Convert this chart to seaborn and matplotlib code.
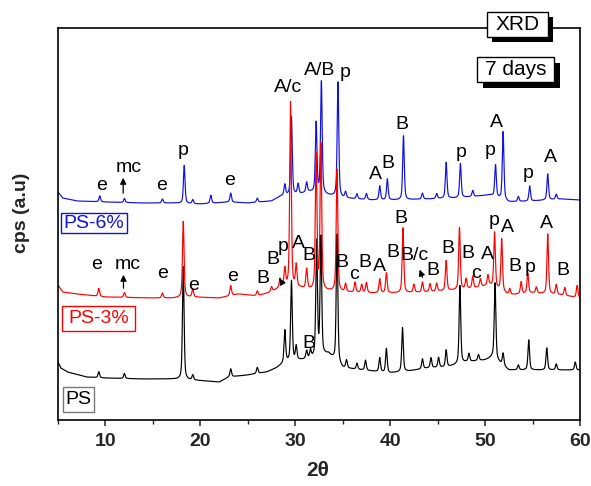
import numpy as np
import pandas as pd
import matplotlib
matplotlib.use("Agg")
import matplotlib.pyplot as plt
import seaborn as sns
from matplotlib.patches import Rectangle

# ---------------- data ----------------
x_min, x_max = 5, 60
x_major_ticks = [10, 20, 30, 40, 50, 60]
x_label = "2\u03b8"
y_label = "cps (a.u)"

# baselines (2theta, level) per sample
ps_base_x = [5.0, 5.3, 6, 8, 10, 14, 17, 19, 22, 23, 25, 27, 28, 29, 30.5, 31.5, 33.5, 35, 37, 40, 42, 44, 46, 48, 50, 50.8, 52.5, 55, 58, 60]
ps_base_y = [58, 52, 48, 43, 42, 41, 41, 40, 38, 43, 45, 48, 52, 58, 60, 61, 66, 52, 50, 47, 49, 52, 53, 58, 60, 63, 50, 50, 50, 50]
ps_peak_pos = [9.3, 12.0, 18.2, 19.2, 23.2, 26.0, 28.9, 29.6, 30.1, 31.2, 31.6, 32.25, 32.7, 34.4, 35.4, 36.5, 37.4, 38.9, 39.6, 41.3, 43.4, 44.3, 45.1, 45.9, 47.35, 48.3, 49.3, 51.05, 51.9, 53.5, 54.6, 56.5, 57.5, 59.5]
ps_peak_amp = [6, 5, 113, 5, 8, 6, 32, 80, 14, 8, 8, 115, 118, 128, 8, 6, 10, 14, 24, 44, 10, 10, 10, 17, 78, 8, 6, 76, 12, 5, 30, 22, 6, 8]

s3_base_x = [5.0, 5.5, 7, 10, 15, 17, 19, 22, 24, 26, 27.5, 28.5, 30.5, 31.5, 35, 38, 41, 44, 47, 49, 50.5, 52.5, 55, 58, 60]
s3_base_y = [135, 128, 126, 123, 122, 122, 123, 122, 126, 124, 128, 133, 132, 130, 128, 127, 127, 128, 130, 132, 135, 125, 127, 125, 122]
s3_peak_pos = [9.3, 12.0, 16.0, 18.2, 19.2, 23.2, 26.0, 27.5, 28.4, 28.9, 29.5, 30.1, 31.2, 32.2, 32.7, 34.4, 35.3, 36.3, 37.0, 37.5, 38.9, 39.6, 41.35, 42.5, 43.4, 44.2, 44.9, 45.9, 47.3, 48.0, 48.7, 49.5, 50.3, 51.0, 51.75, 52.6, 53.8, 54.5, 55.4, 56.6, 57.5, 58.4, 59.7]
s3_peak_amp = [8, 5, 5, 76, 8, 10, 5, 5, 8, 18, 185, 22, 20, 135, 145, 122, 8, 10, 8, 10, 14, 20, 65, 8, 10, 8, 8, 30, 62, 10, 12, 8, 10, 55, 52, 6, 12, 20, 6, 60, 10, 8, 12]

s6_base_x = [5.0, 5.5, 7, 10, 14, 17, 20, 23, 25, 27.5, 28.5, 30.5, 31.5, 35, 38, 41, 44, 47, 50.5, 52.5, 55, 58, 60]
s6_base_y = [228, 222, 219, 218, 217, 217, 216, 218, 217, 219, 224, 226, 228, 222, 220, 220, 221, 222, 225, 218, 219, 221, 220]
s6_peak_pos = [9.4, 12.0, 16.0, 18.3, 19.2, 21.1, 23.2, 26.0, 28.9, 29.6, 30.3, 31.2, 32.2, 32.75, 34.5, 35.3, 36.5, 37.5, 38.9, 39.7, 41.4, 43.4, 44.9, 45.9, 47.4, 48.7, 51.1, 51.9, 53.5, 54.7, 56.6, 57.5]
s6_peak_amp = [6, 4, 4, 38, 4, 8, 9, 4, 11, 78, 10, 10, 70, 112, 115, 6, 5, 6, 14, 21, 64, 6, 5, 36, 34, 6, 32, 68, 5, 15, 26, 5]

sample_order = ["PS", "PS-6%", "PS-3%"]
sample_colors = {"PS": "#000000", "PS-6%": "#1010e0", "PS-3%": "#ff0000"}

# peak labels (text, 2theta, level)
labels_6 = [("e", 9.6, 235), ("mc", 12.4, 253), ("e", 15.9, 235), ("p", 18.2, 270),
            ("e", 23.1, 240), ("A/c", 29.2, 333), ("A/B", 32.6, 350), ("p", 35.3, 348),
            ("A", 38.5, 246), ("B", 39.8, 257), ("B", 41.2, 296), ("p", 47.5, 268),
            ("p", 50.5, 270), ("A", 51.2, 298), ("p", 54.5, 247), ("A", 56.9, 263)]
labels_3 = [("e", 9.1, 156), ("mc", 12.3, 156), ("e", 16.05, 147), ("e", 19.3, 135),
            ("e", 23.4, 144), ("B", 26.6, 142), ("B", 27.6, 161), ("p", 28.7, 174),
            ("A", 30.3, 177), ("B", 31.4, 165), ("B", 34.9, 158), ("c", 36.2, 146),
            ("B", 37.35, 158), ("A", 38.9, 154), ("B", 40.3, 168), ("B", 41.1, 202),
            ("B/c", 42.6, 165), ("B", 44.5, 150), ("B", 46.05, 172), ("B", 48.2, 167),
            ("c", 49.0, 147), ("A", 50.2, 166), ("p", 51.0, 200), ("A", 52.4, 193),
            ("B", 53.1, 154), ("p", 54.7, 153), ("A", 56.5, 197), ("B", 58.2, 150)]
labels_ps = [("B", 31.4, 77)]

# ---------------- build profiles ----------------
def profile(grid, bx, by, pos, amp, hwhm=0.1):
    y = np.interp(grid, bx, by).astype(float)
    for p, a in zip(pos, amp):
        u = (grid - p) / hwhm
        y += a * (0.5 / (1 + u ** 2) + 0.5 * np.exp(-np.log(2) * u ** 2))
    return y

grid = np.linspace(x_min, x_max, 5501)
frames = []
for name, bx, by, pos, amp in [
    ("PS", ps_base_x, ps_base_y, ps_peak_pos, ps_peak_amp),
    ("PS-6%", s6_base_x, s6_base_y, s6_peak_pos, s6_peak_amp),
    ("PS-3%", s3_base_x, s3_base_y, s3_peak_pos, s3_peak_amp),
]:
    frames.append(pd.DataFrame({"2theta": grid,
                                "cps": profile(grid, bx, by, pos, amp),
                                "sample": name}))
df = pd.concat(frames, ignore_index=True)

# ---------------- figure ----------------
sns.set_style("white")
plt.rcParams["font.family"] = ["Liberation Sans", "DejaVu Sans"]

W, H = 591, 486
fig = plt.figure(figsize=(W / 100, H / 100), dpi=100)
fig.patch.set_facecolor("white")
ax = fig.add_axes([58 / W, 1 - 420 / H, 522 / W, 392 / H])

sns.lineplot(data=df, x="2theta", y="cps", hue="sample", hue_order=sample_order,
             palette=sample_colors, estimator=None, sort=False, lw=0.85,
             legend=False, ax=ax)

ax.set_xlim(x_min, x_max)
ax.set_ylim(0, 392)
ax.set_yticks([])
ax.set_xticks(x_major_ticks)
ax.set_xticks(np.arange(5, 60, 10), minor=True)
ax.tick_params(axis="x", which="major", direction="out", length=4.5, width=1.1,
               pad=5, labelsize=14, bottom=True)
ax.tick_params(axis="x", which="minor", direction="out", length=3, width=1.0, bottom=True)
for lab in ax.get_xticklabels():
    lab.set_fontweight("bold")
for s in ax.spines.values():
    s.set_linewidth(1.2)
    s.set_color("black")
ax.set_xlabel("")
ax.set_ylabel("")
fig.text(318 / W, 1 - 470 / H, x_label, fontsize=15, fontweight="bold",
         ha="center", va="center")
fig.text(22 / W, 1 - 213 / H, y_label, fontsize=14, fontweight="bold",
         ha="center", va="center", rotation=90)

# peak labels
for lst in (labels_6, labels_3, labels_ps):
    for t, xx, yy in lst:
        ax.text(xx, yy, t, fontsize=14, ha="center", va="center", color="black")

arrow = dict(arrowstyle="-|>", lw=0.9, color="black", mutation_scale=9)
ax.annotate("", xy=(11.87, 245), xytext=(11.87, 224), arrowprops=arrow)
ax.annotate("", xy=(11.9, 148), xytext=(11.9, 129), arrowprops=arrow)
ax.annotate("", xy=(43.0, 153), xytext=(43.5, 140), arrowprops=arrow)
ax.annotate("", xy=(28.2, 144), xytext=(28.5, 139), arrowprops=arrow)

# boxes in figure pixel coordinates (top-left origin)
def px_box(x0, y0, x1, y1, text, edge, tcolor, fs, shadow=0):
    if shadow:
        fig.patches.append(Rectangle((x0 / W + shadow / W, 1 - (y1 + shadow) / H),
                                     (x1 - x0) / W, (y1 - y0) / H, transform=fig.transFigure,
                                     facecolor="black", edgecolor="black", lw=0, zorder=5))
    fig.patches.append(Rectangle((x0 / W, 1 - y1 / H), (x1 - x0) / W, (y1 - y0) / H,
                                 transform=fig.transFigure, facecolor="white",
                                 edgecolor=edge, lw=1.0, zorder=6))
    fig.text((x0 + x1) / 2 / W, 1 - (y0 + y1) / 2 / H, text, fontsize=fs, color=tcolor,
             ha="center", va="center", zorder=7)

px_box(487, 12, 548, 37, "XRD", "black", "black", 15, shadow=5)
px_box(477, 57, 554, 82, "7 days", "black", "black", 15, shadow=6)
px_box(61, 213, 127, 233, "PS-6%", "#1010e0", "#1010e0", 14)
px_box(62, 306, 135, 331, "PS-3%", "#ff0000", "#ff0000", 14)
px_box(63, 387, 94, 412, "PS", "#777777", "black", 14)

fig.savefig("out.png", dpi=100)
